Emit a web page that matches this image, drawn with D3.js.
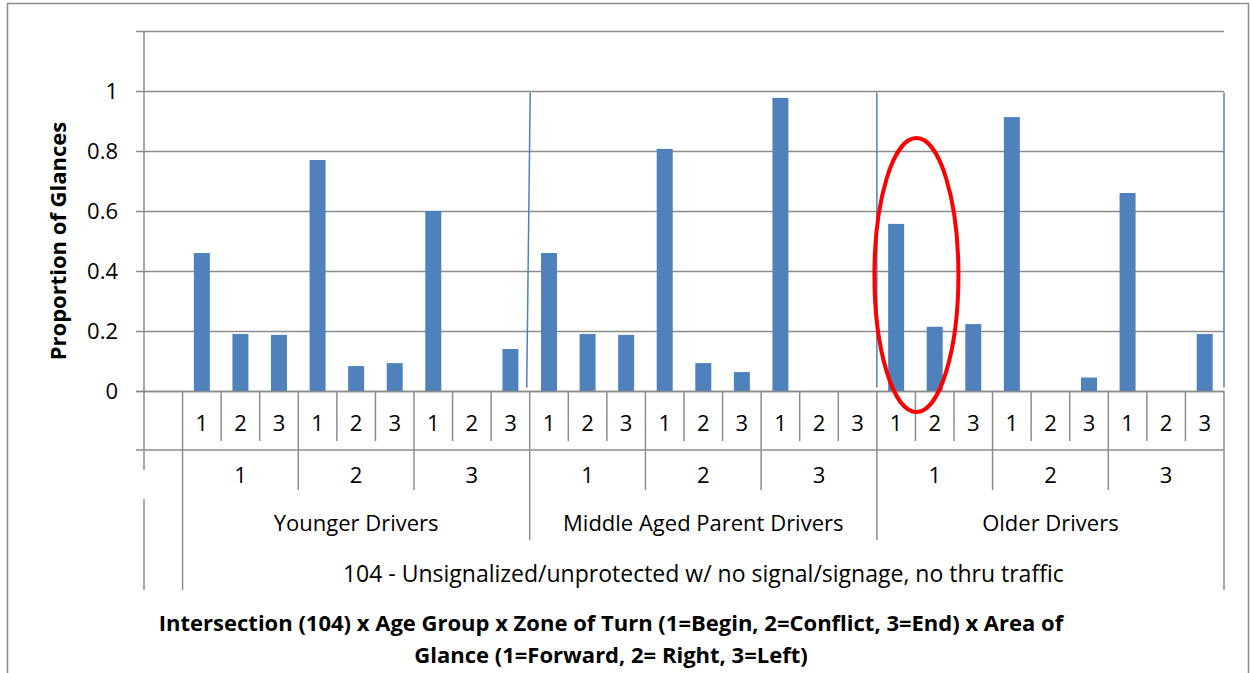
<!DOCTYPE html>
<html>
<head>
<meta charset="utf-8">
<script src="https://cdn.jsdelivr.net/npm/d3@7"></script>
<style>
	body { margin: 0; background: #ffffff; }
	svg { display: block; }
	text { font-family: "Open Sans", sans-serif; fill: #000000; }
</style>
</head>
<body>
<svg id="chart" width="1251" height="673"></svg>
<script>
// Data
var ageGroups = ["Younger Drivers", "Middle Aged Parent Drivers", "Older Drivers"];
var zones = ["1", "2", "3"];
var areas = ["1", "2", "3"];
var proportions = [
	0.46, 0.19, 0.187,  0.77, 0.083, 0.093,  0.60, 0, 0.14,
	0.46, 0.19, 0.187,  0.807, 0.093, 0.063,  0.977, 0, 0,
	0.557, 0.214, 0.223,  0.913, 0, 0.045,  0.66, 0, 0.19
];
var yTicks = [0, 0.2, 0.4, 0.6, 0.8, 1, 1.2];
var intersectionLabel = "104 - Unsignalized/unprotected w/ no signal/signage, no thru traffic";
var titleLines = [
	"Intersection (104) x Age Group x Zone of Turn (1=Begin, 2=Conflict, 3=End) x Area of",
	"Glance (1=Forward, 2= Right, 3=Left)"
];
var highlight = { group: 2, zone: 0, from: 0, to: 1 };

var svg = d3.select("#chart");
var plotLeft = 144, plotRight = 1224, plotTop = 31, zeroY = 391;
var gridColor = "#8c8c8c";
var barColor = "#4f81bd";
var labelSize = 22;

// outer frame
svg.append("rect")
	.attr("x", 7.5).attr("y", 3.5)
	.attr("width", 1241).attr("height", 720)
	.attr("fill", "none")
	.attr("stroke", gridColor)
	.attr("stroke-width", 1.5);

// categories: one empty slot first, then group x zone x area
var cats = [{ key: "blank" }];
ageGroups.forEach(function(g, gi) {
	zones.forEach(function(z, zi) {
		areas.forEach(function(a, ai) {
			var idx = gi * 9 + zi * 3 + ai;
			cats.push({ key: gi + "-" + zi + "-" + ai, g: gi, z: zi, a: ai, area: a, value: proportions[idx] });
		});
	});
});

var x = d3.scaleBand()
	.domain(cats.map(function(d) { return d.key; }))
	.range([plotLeft, plotRight])
	.padding(0);

var y = d3.scaleLinear()
	.domain([0, 1.2])
	.range([zeroY, plotTop]);

var step = x.step();
function edge(i) { return plotLeft + i * step; }

// gridlines
svg.append("g").selectAll("line")
	.data(yTicks)
	.enter().append("line")
	.attr("x1", plotLeft).attr("x2", plotRight)
	.attr("y1", function(d) { return Math.round(y(d)) + 0.5; })
	.attr("y2", function(d) { return Math.round(y(d)) + 0.5; })
	.attr("stroke", gridColor)
	.attr("stroke-width", 1.5);

// y axis
var yAxis = d3.axisLeft(y)
	.tickValues(yTicks)
	.tickSize(8)
	.tickPadding(18)
	.tickFormat(function(d) { return d > 1 ? "" : d3.format("")(d); });

var gy = svg.append("g")
	.attr("transform", "translate(" + plotLeft + ",0)")
	.call(yAxis);
gy.select(".domain").remove();
gy.selectAll(".tick line").attr("stroke", gridColor).attr("stroke-width", 1.5);
gy.selectAll(".tick text").attr("font-size", labelSize).attr("fill", "#000").attr("font-family", "'Open Sans', sans-serif");

// y axis line
svg.append("line")
	.attr("x1", plotLeft).attr("x2", plotLeft)
	.attr("y1", plotTop).attr("y2", 470)
	.attr("stroke", gridColor).attr("stroke-width", 1.5);
svg.append("line")
	.attr("x1", plotLeft).attr("x2", plotLeft)
	.attr("y1", 499).attr("y2", 590)
	.attr("stroke", gridColor).attr("stroke-width", 1.5);

// bars
var barW = 16;
svg.append("g").selectAll("rect")
	.data(cats.filter(function(d) { return d.key != "blank" && d.value > 0; }))
	.enter().append("rect")
	.attr("x", function(d) { return x(d.key) + x.bandwidth() / 2 - barW / 2; })
	.attr("width", barW)
	.attr("y", function(d) { return y(d.value); })
	.attr("height", function(d) { return zeroY - y(d.value); })
	.attr("fill", barColor);

// blue boundary lines at the end of each age group
svg.append("g").selectAll("line")
	.data(ageGroups)
	.enter().append("line")
	.attr("x1", function(d, i) { return edge(1 + (i + 1) * 9) + (i == 0 ? 0.5 : 0); })
	.attr("x2", function(d, i) { return edge(1 + (i + 1) * 9) - (i == 0 ? 3 : 0); })
	.attr("y1", y(0.995))
	.attr("y2", y(0.012))
	.attr("stroke", barColor)
	.attr("stroke-width", 1.5);

// category table
var table = svg.append("g");
table.append("line")
	.attr("x1", 136).attr("x2", plotRight)
	.attr("y1", zeroY + 0.5).attr("y2", zeroY + 0.5)
	.attr("stroke", gridColor).attr("stroke-width", 1.5);
table.append("line")
	.attr("x1", 136).attr("x2", plotRight)
	.attr("y1", 450).attr("y2", 450)
	.attr("stroke", gridColor).attr("stroke-width", 1.5);

var bounds = d3.range(1, cats.length + 1);
table.selectAll(".sep")
	.data(bounds)
	.enter().append("line")
	.attr("class", "sep")
	.attr("x1", function(i) { return edge(i); })
	.attr("x2", function(i) { return edge(i); })
	.attr("y1", zeroY)
	.attr("y2", function(i) {
		if (i == 1 || i == cats.length) return 590;
		if ((i - 1) % 9 == 0) return 540;
		if ((i - 1) % 3 == 0) return 490;
		return 441;
	})
	.attr("stroke", gridColor).attr("stroke-width", 1.5);

// area labels
table.selectAll(".area")
	.data(cats.filter(function(d) { return d.key != "blank"; }))
	.enter().append("text")
	.attr("x", function(d) { return x(d.key) + x.bandwidth() / 2; })
	.attr("y", 431)
	.attr("text-anchor", "middle")
	.attr("font-size", labelSize)
	.text(function(d) { return d.area; });

// zone labels
var zoneCells = [];
ageGroups.forEach(function(g, gi) {
	zones.forEach(function(z, zi) { zoneCells.push({ label: z, start: 1 + gi * 9 + zi * 3 }); });
});
table.selectAll(".zone")
	.data(zoneCells)
	.enter().append("text")
	.attr("x", function(d) { return edge(d.start) + step * 1.5; })
	.attr("y", 483)
	.attr("text-anchor", "middle")
	.attr("font-size", labelSize)
	.text(function(d) { return d.label; });

// age group labels
table.selectAll(".age")
	.data(ageGroups)
	.enter().append("text")
	.attr("x", function(d, i) { return edge(1 + i * 9) + step * 4.5; })
	.attr("y", 531)
	.attr("text-anchor", "middle")
	.attr("font-size", labelSize)
	.text(function(d) { return d; });

table.append("text")
	.attr("x", (edge(1) + plotRight) / 2)
	.attr("y", 582)
	.attr("text-anchor", "middle")
	.attr("font-size", 23)
	.text(intersectionLabel);

// axis titles
svg.append("text")
	.attr("transform", "translate(66,241) rotate(-90)")
	.attr("text-anchor", "middle")
	.attr("font-size", labelSize)
	.attr("font-weight", "bold")
	.text("Proportion of Glances");

svg.selectAll(".title")
	.data(titleLines)
	.enter().append("text")
	.attr("x", 611)
	.attr("y", function(d, i) { return 631 + i * 32; })
	.attr("text-anchor", "middle")
	.attr("font-size", 22)
	.attr("font-weight", "bold")
	.text(function(d) { return d; });

// red highlight ellipse round the older drivers, zone 1 bars
var hx0 = edge(1 + highlight.group * 9 + highlight.zone * 3 + highlight.from);
var hx1 = edge(1 + highlight.group * 9 + highlight.zone * 3 + highlight.to + 1);
svg.append("ellipse")
	.attr("cx", (hx0 + hx1) / 2 + 1)
	.attr("cy", (y(0.843) + y(-0.07)) / 2)
	.attr("rx", 42)
	.attr("ry", (y(-0.07) - y(0.843)) / 2)
	.attr("fill", "none")
	.attr("stroke", "#ff0000")
	.attr("stroke-width", 4);
</script>
</body>
</html>
